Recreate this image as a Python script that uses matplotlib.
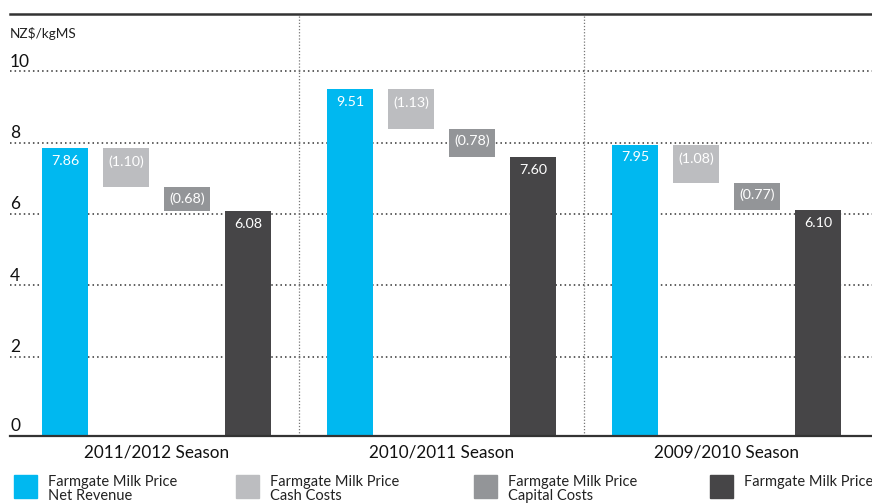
import numpy as np
import matplotlib
matplotlib.use("Agg")
import matplotlib.pyplot as plt
from matplotlib.patches import Rectangle

plt.rcParams["font.family"] = ["Lato", "DejaVu Sans"]

# Data
seasons = ["2011/2012 Season", "2010/2011 Season", "2009/2010 Season"]
net_revenue = [7.86, 9.51, 7.95]
cash_costs = [1.10, 1.13, 1.08]
capital_costs = [0.68, 0.78, 0.77]
milk_price = [6.08, 7.60, 6.10]
y_ticks = [0, 2, 4, 6, 8, 10]
legend_labels = [
    "Farmgate Milk Price\nNet Revenue",
    "Farmgate Milk Price\nCash Costs",
    "Farmgate Milk Price\nCapital Costs",
    "Farmgate Milk Price",
]

# Styles
colors = ["#00b8f0", "#bcbdc0", "#939598", "#464547"]
bar_w = 0.161
step = 0.214
ymin, ymax = -0.224, 11.61

W, H = 872, 504
fig = plt.figure(figsize=(W / 100, H / 100), dpi=100)
ax = fig.add_axes([10 / W, 1 - 436 / H, 1 - 10 / W, (436 - 14) / H])
ax.set_xlim(-0.514, 2.51)
ax.set_ylim(ymin, ymax)

x = np.arange(len(seasons))
offsets = [-1.5 * step, -0.5 * step, 0.5 * step, 1.5 * step]

net = np.array(net_revenue)
cash = np.array(cash_costs)
cap = np.array(capital_costs)
price = np.array(milk_price)

# base bars start at the axis line
ax.bar(x + offsets[0], net - ymin, bottom=ymin, width=bar_w, color=colors[0], zorder=2)
ax.bar(x + offsets[1], cash, bottom=net - cash, width=bar_w, color=colors[1], zorder=2)
ax.bar(x + offsets[2], cap, bottom=net - cash - cap, width=bar_w, color=colors[2], zorder=2)
ax.bar(x + offsets[3], price - ymin, bottom=ymin, width=bar_w, color=colors[3], zorder=2)

lab_kw = dict(ha="center", va="center", color="white", fontsize=10.3, zorder=3)
for i in range(len(seasons)):
    ax.text(x[i] + offsets[0], net[i] - 0.36, f"{net[i]:.2f}", **lab_kw)
    ax.text(x[i] + offsets[1], net[i] - 0.40, f"({cash[i]:.2f})", **lab_kw)
    ax.text(x[i] + offsets[2], net[i] - cash[i] - 0.33, f"({cap[i]:.2f})", **lab_kw)
    ax.text(x[i] + offsets[3], price[i] - 0.36, f"{price[i]:.2f}", **lab_kw)

# grid
for v in y_ticks[1:]:
    ax.axhline(v, color="#333333", lw=1.1, ls=(0, (1, 2)), zorder=1)
for v in [0.5, 1.5]:
    ax.axvline(v, color="#777777", lw=0.9, ls=(0, (1, 1.5)), zorder=1)

# y labels sit above gridlines at the left edge ("0" sits on the axis line)
for v in y_ticks:
    ypos = ymin + 0.06 if v == 0 else v + 0.05
    ax.text(0.0, ypos, str(v), transform=ax.get_yaxis_transform(),
            ha="left", va="bottom", fontsize=12.5, color="#111111")
ax.text(0.0, 11.07, "NZ$/kgMS", transform=ax.get_yaxis_transform(),
        ha="left", va="center", fontsize=9.8, color="#222222")

ax.set_yticks([])
ax.set_xticks(x)
ax.set_xticklabels(seasons, fontsize=12.3, color="#111111")
ax.tick_params(axis="x", length=0, pad=6)

for s in ["left", "right"]:
    ax.spines[s].set_visible(False)
ax.spines["top"].set_color("#333333")
ax.spines["top"].set_linewidth(1.8)
ax.spines["bottom"].set_color("#333333")
ax.spines["bottom"].set_linewidth(1.6)

# legend, laid out by hand along the bottom
sq_x = [14, 236, 474, 710]
for px, c, lab in zip(sq_x, colors, legend_labels):
    fig.patches.append(Rectangle((px / W, 1 - 498 / H), 23 / W, 23 / H,
                                 transform=fig.transFigure, color=c))
    fig.text((px + 34) / W, 1 - 475 / H, lab, ha="left", va="top",
             fontsize=10.5, linespacing=0.98, color="#222222")

fig.savefig("out.png", dpi=100)
